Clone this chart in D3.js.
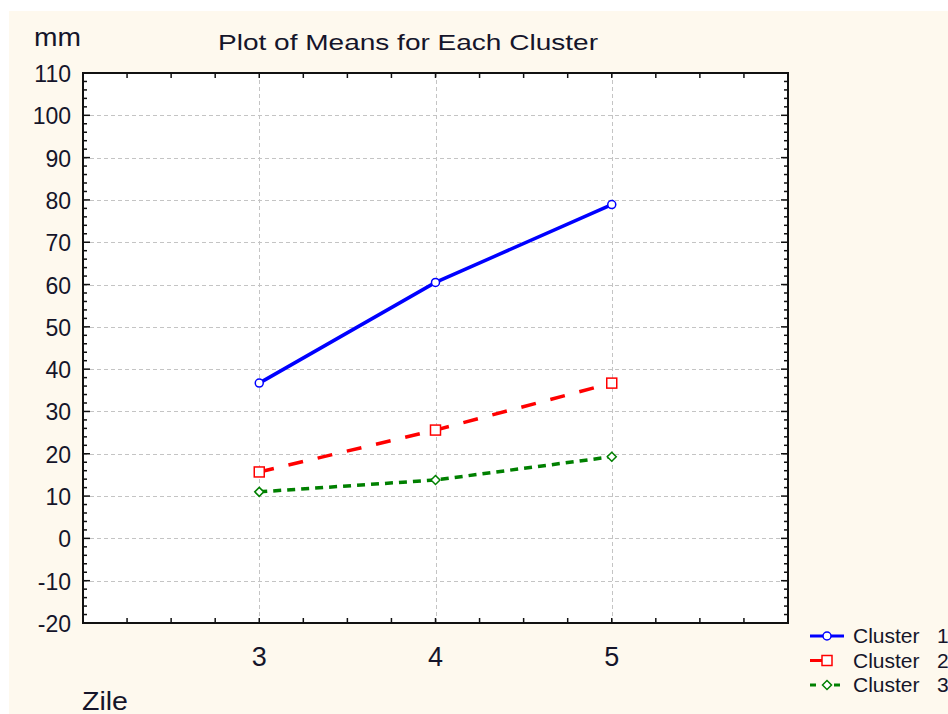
<!DOCTYPE html>
<html>
<head>
<meta charset="utf-8">
<script src="https://cdn.jsdelivr.net/npm/d3@7"></script>
<style>
  body { margin: 0; background: #fff; }
  text { font-family: Arial, "Liberation Sans", sans-serif; fill: #15152a; }
</style>
</head>
<body>
<div id="chart"></div>
<script>
// data
const days = [3, 4, 5];
const cluster1 = [36.7, 60.5, 78.9];
const cluster2 = [15.7, 25.6, 36.7];
const cluster3 = [11.0, 13.8, 19.3];
const seriesNames = ["Cluster   1", "Cluster   2", "Cluster   3"];
const yTicks = [-20, -10, 0, 10, 20, 30, 40, 50, 60, 70, 80, 90, 100, 110];
const xTicks = [3, 4, 5];

const width = 948, height = 714;
const plot = { left: 83, top: 73, right: 788, bottom: 623 };

const svg = d3.select("#chart").append("svg")
  .attr("width", width)
  .attr("height", height);

// beige panel
svg.append("rect")
  .attr("x", 9).attr("y", 11)
  .attr("width", width - 9).attr("height", height - 11)
  .attr("fill", "#fef9ee");

svg.append("rect")
  .attr("x", plot.left).attr("y", plot.top)
  .attr("width", plot.right - plot.left).attr("height", plot.bottom - plot.top)
  .attr("fill", "#fff");

const x = d3.scaleLinear().domain([2, 6]).range([plot.left, plot.right]);
const y = d3.scaleLinear().domain([-20, 110]).range([plot.bottom, plot.top]);

// grid
const grid = svg.append("g").attr("stroke", "#c4c4c4").attr("stroke-width", 1)
  .attr("stroke-dasharray", "4,3");
grid.selectAll("line.h")
  .data(yTicks.filter(d => d > -20 && d < 110))
  .join("line")
  .attr("x1", plot.left).attr("x2", plot.right)
  .attr("y1", d => Math.round(y(d)) + 0.5).attr("y2", d => Math.round(y(d)) + 0.5);
grid.selectAll("line.v")
  .data(xTicks)
  .join("line")
  .attr("class", "v")
  .attr("y1", plot.top).attr("y2", plot.bottom)
  .attr("x1", d => Math.round(x(d)) + 0.5).attr("x2", d => Math.round(x(d)) + 0.5);

// axes with inward minor ticks
const minorY = d3.range(-20, 110.1, 2);
const minorX = d3.range(2, 6.01, 0.25);

function tickLen(major) { return major ? 7 : 4; }

const axisG = svg.append("g").attr("stroke", "#111").attr("stroke-width", 1.5);
// left & right
axisG.selectAll("line.yl")
  .data(minorY)
  .join("line")
  .attr("class", "yl")
  .attr("x1", plot.left).attr("x2", d => plot.left + tickLen(d % 10 === 0))
  .attr("y1", d => y(d)).attr("y2", d => y(d));
axisG.selectAll("line.yr")
  .data(minorY)
  .join("line")
  .attr("class", "yr")
  .attr("x1", plot.right).attr("x2", d => plot.right - tickLen(d % 10 === 0))
  .attr("y1", d => y(d)).attr("y2", d => y(d));
// bottom & top
axisG.selectAll("line.xb")
  .data(minorX)
  .join("line")
  .attr("class", "xb")
  .attr("y1", plot.bottom).attr("y2", plot.bottom - 5)
  .attr("x1", d => x(d)).attr("x2", d => x(d));
axisG.selectAll("line.xt")
  .data(minorX)
  .join("line")
  .attr("class", "xt")
  .attr("y1", plot.top).attr("y2", plot.top + 5)
  .attr("x1", d => x(d)).attr("x2", d => x(d));

svg.append("rect")
  .attr("x", plot.left).attr("y", plot.top)
  .attr("width", plot.right - plot.left).attr("height", plot.bottom - plot.top)
  .attr("fill", "none").attr("stroke", "#111").attr("stroke-width", 2);

// tick labels
svg.append("g").selectAll("text")
  .data(yTicks)
  .join("text")
  .attr("x", 71)
  .attr("y", d => y(d) + 9)
  .attr("text-anchor", "end")
  .style("font-size", "23px")
  .text(d => d);

svg.append("g").selectAll("text")
  .data(xTicks)
  .join("text")
  .attr("x", d => x(d))
  .attr("y", 666)
  .attr("text-anchor", "middle")
  .style("font-size", "27px")
  .text(d => d);

svg.append("text").attr("x", 218).attr("y", 50)
  .attr("textLength", 380).attr("lengthAdjust", "spacingAndGlyphs")
  .style("font-size", "22px").text("Plot of Means for Each Cluster");
svg.append("text").attr("x", 34).attr("y", 46)
  .attr("textLength", 47).attr("lengthAdjust", "spacingAndGlyphs")
  .style("font-size", "25px").text("mm");
svg.append("text").attr("x", 82).attr("y", 710)
  .attr("textLength", 46).attr("lengthAdjust", "spacingAndGlyphs")
  .style("font-size", "25px").text("Zile");

// series
const series = [
  { name: seriesNames[0], values: cluster1, color: "#0000ff", dash: null, marker: "circle" },
  { name: seriesNames[1], values: cluster2, color: "#ff0000", dash: "15,15", marker: "square" },
  { name: seriesNames[2], values: cluster3, color: "#008000", dash: "8,6", marker: "diamond" }
];

const line = d3.line().x(d => x(d[0])).y(d => y(d[1]));

function drawMarker(g, type, color, cx, cy) {
  if (type === "square") {
    g.append("rect").attr("x", cx - 5).attr("y", cy - 5).attr("width", 10).attr("height", 10)
      .attr("fill", "#fff").attr("stroke", color).attr("stroke-width", 1.5);
  } else if (type === "diamond") {
    g.append("path").attr("d", `M${cx},${cy - 4.5}L${cx + 4.5},${cy}L${cx},${cy + 4.5}L${cx - 4.5},${cy}Z`)
      .attr("fill", "#fff").attr("stroke", color).attr("stroke-width", 1.5);
  } else {
    g.append("circle").attr("cx", cx).attr("cy", cy).attr("r", 4)
      .attr("fill", "#fff").attr("stroke", color).attr("stroke-width", 1.5);
  }
}

series.forEach(s => {
  const pts = days.map((d, i) => [d, s.values[i]]);
  svg.append("path")
    .attr("d", line(pts))
    .attr("fill", "none")
    .attr("stroke", s.color)
    .attr("stroke-width", 3.5)
    .attr("stroke-dasharray", s.dash);
  const g = svg.append("g");
  pts.forEach(p => drawMarker(g, s.marker, s.color, x(p[0]), y(p[1])));
});

// legend
const legend = svg.append("g");
series.forEach((s, i) => {
  const ly = 636 + i * 24.5;
  if (i === 0) {
    legend.append("line").attr("x1", 810).attr("x2", 844).attr("y1", ly).attr("y2", ly)
      .attr("stroke", s.color).attr("stroke-width", 3);
  } else if (i === 1) {
    legend.append("line").attr("x1", 810).attr("x2", 822).attr("y1", ly).attr("y2", ly)
      .attr("stroke", s.color).attr("stroke-width", 3);
  } else {
    legend.append("line").attr("x1", 810).attr("x2", 816).attr("y1", ly).attr("y2", ly)
      .attr("stroke", s.color).attr("stroke-width", 3);
    legend.append("line").attr("x1", 834).attr("x2", 840).attr("y1", ly).attr("y2", ly)
      .attr("stroke", s.color).attr("stroke-width", 3);
  }
  drawMarker(legend, s.marker, s.color, 827, ly);
  legend.append("text").attr("x", 853).attr("y", ly + 7)
    .style("font-size", "21px").style("white-space", "pre")
    .attr("xml:space", "preserve")
    .text(s.name);
});
</script>
</body>
</html>
